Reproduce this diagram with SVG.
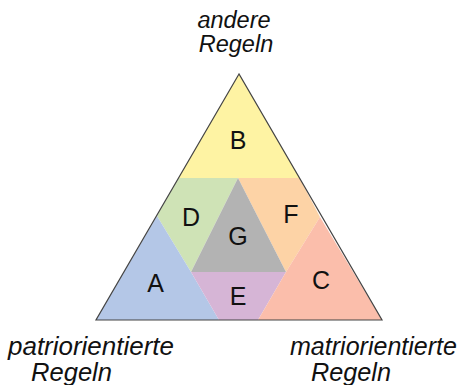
<svg xmlns="http://www.w3.org/2000/svg" width="461" height="385" viewBox="0 0 461 385">
<style>
.lbl{font-family:"Liberation Sans",Arial,sans-serif;font-size:25px;fill:#111;text-anchor:middle}
.ax{font-family:"Liberation Sans",Arial,sans-serif;font-style:italic;fill:#111}
.reg{stroke:none}
</style>
<rect width="461" height="385" fill="#ffffff"/>
<g id="B"><polygon class="reg" fill="#fef3a3" points="239,74 178.5,178 299.5,178"/><text class="lbl" x="238" y="149">B</text></g>
<g id="D"><polygon class="reg" fill="#cfe3b6" points="178.5,178 238,178 191,272 157,216"/><text class="lbl" x="191" y="226">D</text></g>
<g id="F"><polygon class="reg" fill="#fdd3a6" points="238,178 299.5,178 320,217 286,272"/><text class="lbl" x="291" y="223">F</text></g>
<g id="G"><polygon class="reg" fill="#b3b3b3" points="238,178 286,272 191,272"/><text class="lbl" x="238" y="245">G</text></g>
<g id="A"><polygon class="reg" fill="#b4c7e7" points="96,320 157,216 191,272 219,320"/><text class="lbl" x="155.5" y="292">A</text></g>
<g id="E"><polygon class="reg" fill="#d6b5d6" points="191,272 286,272 258,320 219,320"/><text class="lbl" x="238" y="305">E</text></g>
<g id="C"><polygon class="reg" fill="#fbbeab" points="320,217 382,320 258,320 286,272"/><text class="lbl" x="321" y="289">C</text></g>
<g id="connectors"><polygon points="239,74 96,320 382,320" fill="none" stroke="#444" stroke-width="1.2"/></g>
<g id="labels">
<text class="ax" font-size="23.5" x="234" y="28" text-anchor="middle">andere</text>
<text class="ax" font-size="23.5" x="236" y="52" text-anchor="middle">Regeln</text>
<text class="ax" font-size="25" x="8" y="355" textLength="166" lengthAdjust="spacingAndGlyphs">patriorientierte</text>
<text class="ax" font-size="25" x="31" y="381" textLength="81" lengthAdjust="spacingAndGlyphs">Regeln</text>
<text class="ax" font-size="25" x="290" y="355" textLength="167" lengthAdjust="spacingAndGlyphs">matriorientierte</text>
<text class="ax" font-size="25" x="311" y="381" textLength="80" lengthAdjust="spacingAndGlyphs">Regeln</text>
</g>
</svg>
